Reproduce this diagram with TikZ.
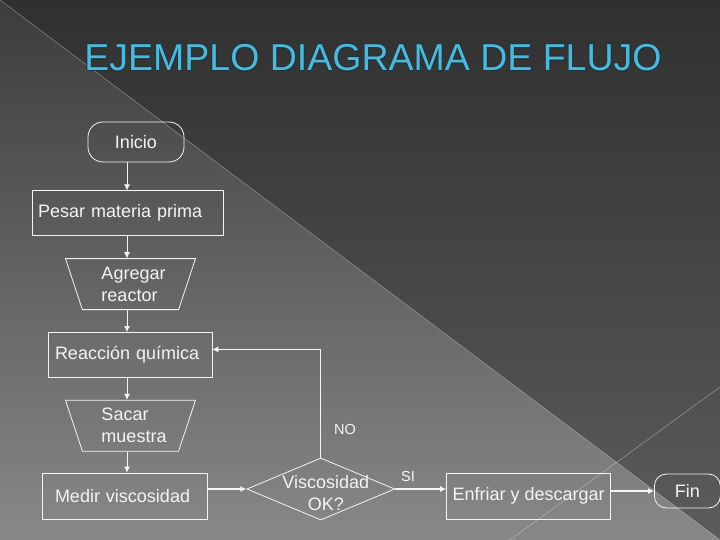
\documentclass[tikz,border=0pt]{standalone}
\usepackage{fontspec}
\setmainfont{Liberation Sans}
\usepackage{contour}
\contourlength{0.7pt}
\usetikzlibrary{arrows.meta,positioning,shapes.geometric}
\definecolor{bglighttop}{HTML}{3C3C3C}
\definecolor{bglightbot}{HTML}{888888}
\definecolor{bgdarktop}{HTML}{303030}
\definecolor{bgdarkbot}{HTML}{5C5C5C}
\definecolor{chartline}{HTML}{F4F4F4}
\definecolor{titlecyan}{HTML}{4FB8D8}
\definecolor{titleedge}{HTML}{1C3440}

\begin{document}
\begin{tikzpicture}[x=1pt, y=-1pt, font=\fontsize{18}{22}\selectfont, node distance=22pt, >={Latex[length=6pt,width=6pt]}]
  \tikzstyle{box}=[draw=chartline, line width=0.8pt, text=chartline, minimum height=45pt, inner sep=0pt, align=left]
  \tikzstyle{term}=[box, rounded corners=15pt, align=center]
  \tikzstyle{io}=[box, trapezium, shape border rotate=180, trapezium stretches body, trapezium angle=64, minimum width=130pt, minimum height=51pt]
  \tikzstyle{flow}=[->, draw=chartline, line width=0.8pt]
  \tikzstyle{bigflow}=[flow, line width=1.6pt]
  \tikzstyle{tag}=[text=chartline, font=\fontsize{14.5}{16}\selectfont]
  \tikzstyle{rim}=[draw=white, opacity=0.35, line width=0.6pt]

  % slide background
  \useasboundingbox (0,0) rectangle (720,540);
  \shade[top color=bglighttop, bottom color=bglightbot] (0,0) rectangle (720,540);
  \shade[top color=bgdarktop, bottom color=bgdarkbot] (0,0) -- (720,0) -- (720,540) -- cycle;
  \draw[rim] (0,0) -- (720,540);
  \draw[rim] (720,387) -- (510,540);

  \node[font=\fontsize{37.5}{40}\selectfont, text=titlecyan] (title) at (373,58) {\contour{titleedge}{EJEMPLO DIAGRAMA DE FLUJO}};

  % main column
  \node[term, minimum width=96pt, minimum height=40pt] (inicio) at (136,142) {Inicio};
  \node[box, minimum width=191pt, text width=179pt, below=28pt of inicio, xshift=-8.5pt] (pesar) {Pesar materia prima};
  \node[io, text width=58pt, below=of pesar, xshift=3pt] (agregar) {Agregar\\reactor};
  \node[box, minimum width=164pt, text width=150pt, below=of agregar, xshift=-0.5pt] (reac) {Reacción química};
  \node[io, text width=58pt, below=of reac, xshift=0.5pt] (sacar) {Sacar\\muestra};
  \node[box, minimum width=165pt, minimum height=46pt, text width=139pt, below=21pt of sacar, xshift=-6pt] (medir) {Medir viscosidad};

  % bottom row
  \node[diamond, draw=chartline, line width=0.8pt, minimum width=148pt, minimum height=62pt, inner sep=0pt, right=39pt of medir, yshift=7pt,
        label={[align=center, text=chartline, xshift=5pt, yshift=-4pt]center:Viscosidad\\OK?}] (dec) {};
  \node[box, minimum width=164pt, minimum height=46pt, align=center, right=51pt of dec, yshift=-7pt] (enfriar) {Enfriar y descargar};
  \node[term, rounded corners=12pt, minimum width=66pt, minimum height=34pt, right=43pt of enfriar, yshift=5pt] (fin) {Fin};

  \coordinate (spine) at (127,0);
  \foreach \a/\b in {inicio/pesar, pesar/agregar, agregar/reac, reac/sacar, sacar/medir}
    \draw[flow] (spine |- \a.south) -- (spine |- \b.north);
  \draw[bigflow] (medir.east |- dec.west) -- (dec.west);
  \draw[bigflow] (dec.east) -- (dec.east -| enfriar.west);
  \draw[bigflow] (enfriar.east |- fin.west) -- (fin.west);
  \draw[flow] (dec.north) |- ([yshift=5.5pt]reac.east);

  \node[tag] (no) at (345,430) {NO};
  \node[tag] (si) at (408,477) {SI};
\end{tikzpicture}
\end{document}
